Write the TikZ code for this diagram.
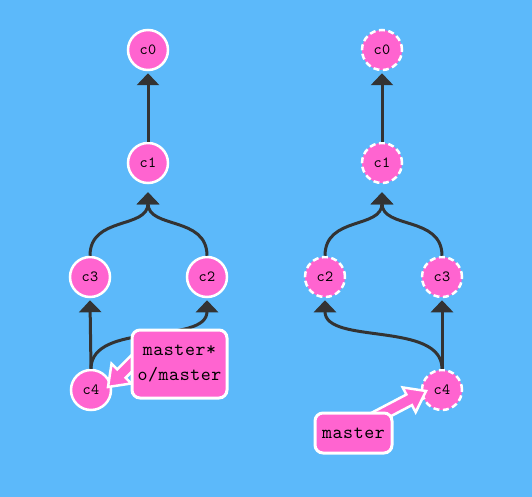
\documentclass[tikz,border=0pt]{standalone}
\usepackage{fontspec}
\setmonofont[LetterSpace=3]{lmmono10-regular.otf}
\usetikzlibrary{arrows.meta,calc}
\definecolor{bgblue}{RGB}{92,185,250}
\definecolor{cpink}{RGB}{255,100,208}
\definecolor{edgegray}{RGB}{51,51,51}
\newcommand{\fatarrow}[2]{%
  \path (#1) coordinate (fa-t) (#2) coordinate (fa-s);
  \path ($(fa-t)!19pt!(fa-s)$) coordinate (fa-b);
  \filldraw[fatarr] (fa-t) -- ($(fa-b)!14pt!90:(fa-t)$) -- ($(fa-b)!6pt!90:(fa-t)$)
    -- ($(fa-s)!6pt!90:(fa-t)$) -- ($(fa-s)!6pt!-90:(fa-t)$)
    -- ($(fa-b)!6pt!-90:(fa-t)$) -- ($(fa-b)!14pt!-90:(fa-t)$) -- cycle;}
\tikzset{
  commit/.style={circle, fill=cpink, draw=white, line width=2.5pt, minimum size=40pt, inner sep=0pt, font=\ttfamily\fontsize{15.5}{16}\selectfont},
  dcommit/.style={commit, dash pattern=on 6pt off 3.5pt},
  edge/.style={draw=edgegray, line width=3pt, -{Triangle[length=12pt,width=22pt]}},
  branch/.style={rectangle, rounded corners=8pt, fill=cpink, draw=white, line width=3pt, inner sep=0pt, align=center, font=\ttfamily\fontsize{19}{25}\selectfont},
  fatarr/.style={fill=cpink, draw=white, line width=2.5pt, line join=miter},
}
\begin{document}
\begin{tikzpicture}[x=1pt,y=-1pt]
\fill[bgblue] (0,0) rectangle (532,497);
\useasboundingbox (0,0) rectangle (532,497);
% left tree
\node[commit] (L0) at (148,50) {c0};
\node[commit] (L1) at (148,163) {c1};
\node[commit] (L3) at (90,277) {c3};
\node[commit] (L2) at (207,277) {c2};
\node[commit] (L4) at (91,390) {c4};
\draw[edge] (L1.north) -- ($(L0.south)+(0,2)$);
\draw[edge] (L3.north) .. controls +(0,-40) and +(0,37) .. ($(L1.south)+(0,8)$);
\draw[edge] (L2.north) .. controls +(0,-40) and +(0,37) .. ($(L1.south)+(0,8)$);
\draw[edge] (L4.north) -- ($(L3.south)+(0,2)$);
\draw[edge] (L4.north) .. controls +(0,-48) and +(0,45) .. ($(L2.south)+(0,2)$);
% right tree
\node[dcommit] (R0) at (382,50) {c0};
\node[dcommit] (R1) at (382,163) {c1};
\node[dcommit] (R2) at (325,277) {c2};
\node[dcommit] (R3) at (442,277) {c3};
\node[dcommit] (R4) at (442,390) {c4};
\draw[edge] (R1.north) -- ($(R0.south)+(0,2)$);
\draw[edge] (R2.north) .. controls +(0,-40) and +(0,37) .. ($(R1.south)+(0,8)$);
\draw[edge] (R3.north) .. controls +(0,-40) and +(0,37) .. ($(R1.south)+(0,8)$);
\draw[edge] (R4.north) -- ($(R3.south)+(0,2)$);
\draw[edge] (R4.north) .. controls +(0,-48) and +(0,45) .. ($(R2.south)+(0,2)$);
% branch labels
\coordinate (lt) at (108,387);
\coordinate (ls) at (150,345);
\fatarrow{lt}{ls}
\node[branch, minimum width=95pt, minimum height=68pt] (lb) at (179.5,364) {master*\\o/master};
\coordinate (rt) at (426,391);
\coordinate (rs) at (365,423);
\fatarrow{rt}{rs}
\node[branch, minimum width=77pt, minimum height=40pt] (rb) at (353.5,433) {master};
\end{tikzpicture}
\end{document}
